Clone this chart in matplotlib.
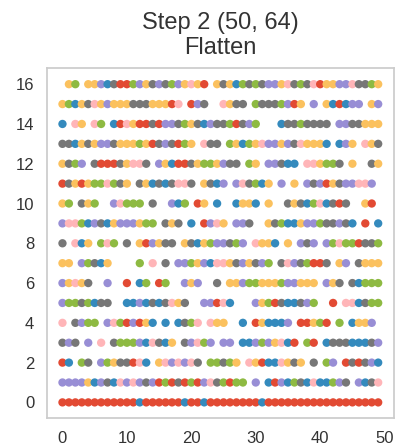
import matplotlib
matplotlib.use("Agg")
import matplotlib.pyplot as plt

# colour codes used in the row strings below
PALETTE = {
    "r": "#E24A33",  # red
    "b": "#348ABD",  # blue
    "p": "#988ED5",  # purple
    "k": "#777777",  # gray
    "y": "#FBC15E",  # yellow
    "g": "#8EBA42",  # green
    "m": "#FFB5B8",  # pink
}

# one string per pixel value (0..16), one char per sample (0..49), '.' = no dot
row_0 = "rrrrrrrrrrrrbrrrrrrbrrbrrrrrrrrbrrrrrrrrrrrrrrrrrr"
row_1 = "ppppybpkbmpmpkprgrkrgrpmkgrgg.p.brpbgkbmbbgpk.pbkm"
row_2 = "rb.gk.pgykkrmb.ympmpmk.ggkgy.myrbbmyky.k.gp.rkrkpb"
row_3 = "kpk.p.m.kgggpbmkby.kpmgp.pp.bbpgpymbr.gr.bkkkbbbkp"
row_4 = "m.kpgg.pmgrpryb.b.bkgm.myy..b.rybbbp.rrygr.g.byyp."
row_5 = "pggkgbkk..bbpbkbkmyk..pprmb...pygrkbbkpg..r.mmbkgg"
row_6 = "pymyk..p..r.bg.rg..pyp..k.yypggyyygppyyy.pyk.kbggg"
row_7 = "yy.pgkby....g.m.k.ppgypbmmykpykpg.kmpkgrrk.yp.kyyy"
row_8 = "k.mby.gmg.k.yrpykk.ykbygppkgp.myyb.y.pkp.pgmggrkkg"
row_9 = "pmmgbpkbypppygg.kyk.b.rpmy.ppk..ykgbbyppgkkpkb.r.b"
row_10 = "yg.kyg..pmggg.k..pbg.ry.b..byyb.y..kykbgmbkrk..yr."
row_11 = "rkyryggmgky.kybkbkmmk.ykbp.pmkgby.p.y.pkprykppmmp."
row_12 = "ykgp.krrrkymmk.pybrrkyggypkk.gy.ppkbb.mmyggk.y..ky"
row_13 = "kkbykyppkyyygyrkpkrgy.mkk.gybgymppypkmyyyb.bpy.myk"
row_14 = "b.my.mg.brmyrrkrppkgykbpkkgrkpg...bkkgkkkk.ppkkyyy"
row_15 = "ygbykmypyyykkkyyyrm.rpk..mykk.gkkkgpry.p.ybrbpp.yp"
row_16 = ".yg.yypbkrrgpykpkgpymyr.ykybgkgkppymkgkmryyppmkkgy"

ROWS = [row_0, row_1, row_2, row_3, row_4, row_5, row_6, row_7, row_8,
        row_9, row_10, row_11, row_12, row_13, row_14, row_15, row_16]

X_TICKS = [0, 10, 20, 30, 40, 50]
Y_TICKS = [0, 2, 4, 6, 8, 10, 12, 14, 16]
TITLE = "Step 2 (50, 64)\nFlatten"


def make_plot():
    plt.rcParams["font.family"] = ["Liberation Sans", "DejaVu Sans"]
    fig = plt.figure(figsize=(3.99, 4.48), dpi=100)
    ax = fig.add_axes([0.117, 0.0663, 0.8704, 0.7813])

    xs, ys, cs = [], [], []
    for value, row in enumerate(ROWS):
        for sample, code in enumerate(row):
            if code == ".":
                continue
            xs.append(sample)
            ys.append(value)
            cs.append(PALETTE[code])
    ax.scatter(xs, ys, c=cs, s=36, linewidths=0)

    ax.set_xticks(X_TICKS)
    ax.set_yticks(Y_TICKS)
    ax.tick_params(length=0, pad=9, labelsize=12, labelcolor="#333333")
    for sp in ax.spines.values():
        sp.set_color("#cccccc")
        sp.set_linewidth(1.25)
    ax.set_title(TITLE, fontsize=17, color="#333333", pad=10)

    fig.savefig("out.png", dpi=100)


if __name__ == "__main__":
    make_plot()
